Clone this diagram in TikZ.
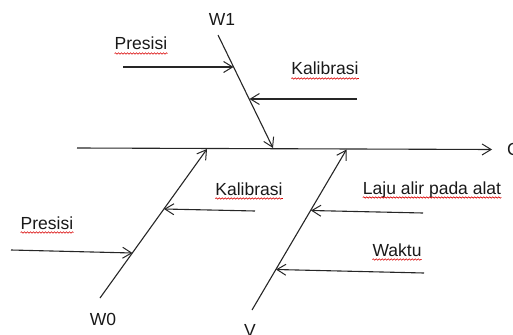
\documentclass[tikz,border=0pt]{standalone}
\usepackage{fontspec}
\setmainfont{Liberation Sans}
\usetikzlibrary{arrows.meta,decorations.pathmorphing}
\begin{document}
\begin{tikzpicture}[x=1pt,y=-1pt,
  bone/.style={line width=1.1pt,black!85},
  causearrow/.style={line width=1.1pt,black!85,-{Straight Barb[length=9pt,width=11pt,line width=1pt]}},
  lbl/.style={inner sep=0pt,anchor=base,font=\fontsize{17.5}{20}\selectfont,text=black!90},
  squiggle/.style={red!85!black,line width=0.6pt,decorate,decoration={snake,segment length=3pt,amplitude=0.7pt}}]
\useasboundingbox (0,0) rectangle (513,334);
% spine
\coordinate (s0) at (77,148);
\coordinate (s1) at (492,149.5);
\draw[causearrow] (s0) -- (s1);
\node[lbl,anchor=base west] (C) at (507,155) {C};
% W1 bone
\coordinate (w1a) at (218,35);
\coordinate (w1b) at (273,148);
\draw[causearrow] (w1a) -- (w1b);
\node[lbl] (W1) at (222,26) {W1};
\coordinate (p1a) at (123,67);
\coordinate (p1b) at (233.5,67);
\draw[causearrow] (p1a) -- (p1b);
\node[lbl] (P1) at (141,50) {Presisi};
\coordinate (k1a) at (357,99);
\coordinate (k1b) at (249.5,99);
\draw[causearrow] (k1a) -- (k1b);
\node[lbl] (K1) at (325,75) {Kalibrasi};
% W0 bone
\coordinate (w0a) at (100,298);
\coordinate (w0b) at (207,149);
\draw[causearrow] (w0a) -- (w0b);
\node[lbl] (W0) at (103,325) {W0};
\coordinate (p0a) at (11,250);
\coordinate (p0b) at (132.5,253);
\draw[causearrow] (p0a) -- (p0b);
\node[lbl] (P0) at (47,229) {Presisi};
\coordinate (k0a) at (255,211);
\coordinate (k0b) at (164,209);
\draw[causearrow] (k0a) -- (k0b);
\node[lbl] (K0) at (249,195) {Kalibrasi};
% V bone
\coordinate (va) at (252,310);
\coordinate (vb) at (346.5,149.5);
\draw[causearrow] (va) -- (vb);
\node[lbl] (V) at (250,336) {V};
\coordinate (la) at (423,213);
\coordinate (lb) at (311,210.5);
\draw[causearrow] (la) -- (lb);
\node[lbl] (L) at (432,194) {Laju alir pada alat};
\coordinate (wka) at (424,273);
\coordinate (wkb) at (276,269.5);
\draw[causearrow] (wka) -- (wkb);
\node[lbl] (WK) at (397,256) {Waktu};
% spell-check underlines
\foreach \n in {P1,K1,P0,K0,L,WK}{
  \draw[squiggle] ([yshift=-3.5pt]\n.base west) -- ([yshift=-3.5pt]\n.base east);
}
\end{tikzpicture}
\end{document}
